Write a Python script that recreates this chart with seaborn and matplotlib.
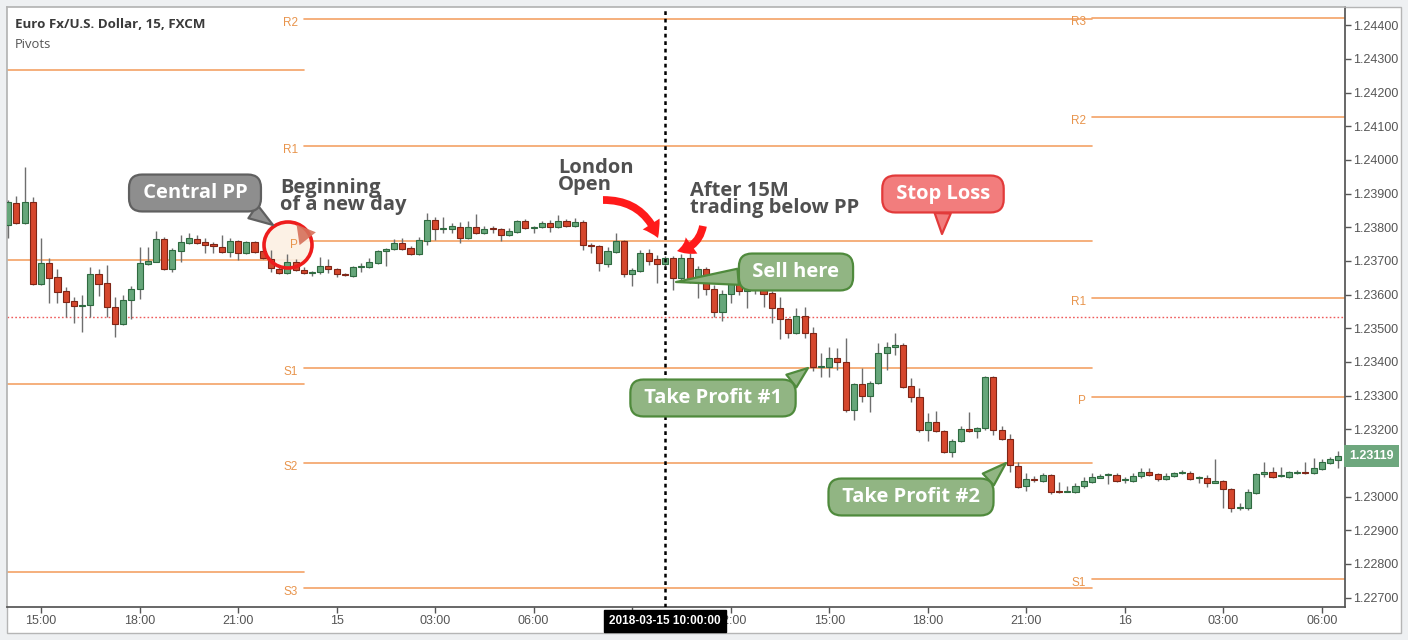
import numpy as np
import matplotlib.pyplot as plt
import matplotlib.patches as mpatches
import pandas as pd
import seaborn as sns

W, H = 1408, 640

# EUR/USD 15 minute candles, first bar 2018-03-14 14:00
start_time = "2018-03-14 14:00"

opens = [
    1.23807, 1.23872, 1.23813, 1.23875, 1.23632, 1.23694, 1.23653, 1.23611, 1.23581, 1.23566,
    1.23569, 1.23661, 1.23635, 1.23563, 1.23513, 1.23584, 1.23617, 1.23691, 1.23697, 1.23765,
    1.23676, 1.23730, 1.23754, 1.23765, 1.23756, 1.23751, 1.23742, 1.23727, 1.23759, 1.23724,
    1.23756, 1.23730, 1.23706, 1.23676, 1.23664, 1.23697, 1.23673, 1.23664, 1.23667, 1.23685,
    1.23676, 1.23661, 1.23655, 1.23682, 1.23682, 1.23694, 1.23730, 1.23736, 1.23754, 1.23739,
    1.23721, 1.23759, 1.23822, 1.23795, 1.23795, 1.23801, 1.23768, 1.23801, 1.23783, 1.23797,
    1.23795, 1.23777, 1.23786, 1.23819, 1.23798, 1.23801, 1.23813, 1.23801, 1.23819, 1.23804,
    1.23816, 1.23748, 1.23745, 1.23691, 1.23727, 1.23759, 1.23661, 1.23670, 1.23724, 1.23706,
    1.23691, 1.23709, 1.23650, 1.23709, 1.23653, 1.23676, 1.23617, 1.23549, 1.23602, 1.23638,
    1.23611, 1.23638, 1.23626, 1.23605, 1.23560, 1.23528, 1.23486, 1.23537, 1.23486, 1.23385,
    1.23385, 1.23412, 1.23400, 1.23257, 1.23335, 1.23299, 1.23338, 1.23427, 1.23445, 1.23451,
    1.23329, 1.23296, 1.23198, 1.23222, 1.23195, 1.23133, 1.23165, 1.23201, 1.23195, 1.23204,
    1.23356, 1.23198, 1.23171, 1.23091, 1.23032, 1.23053, 1.23047, 1.23064, 1.23018, 1.23015,
    1.23014, 1.23032, 1.23044, 1.23056, 1.23063, 1.23064, 1.23048, 1.23047, 1.23061, 1.23073,
    1.23067, 1.23053, 1.23061, 1.23069, 1.23070, 1.23055, 1.23056, 1.23041, 1.23047, 1.23023,
    1.22966, 1.22966, 1.23011, 1.23067, 1.23073, 1.23060, 1.23059, 1.23070, 1.23073, 1.23070,
    1.23082, 1.23100, 1.23109,
]
highs = [
    1.23881, 1.23893, 1.23979, 1.23890, 1.23768, 1.23709, 1.23676, 1.23623, 1.23593, 1.23599,
    1.23682, 1.23676, 1.23688, 1.23593, 1.23599, 1.23626, 1.23742, 1.23742, 1.23789, 1.23772,
    1.23739, 1.23777, 1.23783, 1.23777, 1.23768, 1.23756, 1.23777, 1.23768, 1.23762, 1.23759,
    1.23759, 1.23739, 1.23733, 1.23685, 1.23721, 1.23706, 1.23682, 1.23670, 1.23712, 1.23706,
    1.23679, 1.23664, 1.23685, 1.23694, 1.23709, 1.23733, 1.23739, 1.23765, 1.23768, 1.23745,
    1.23772, 1.23843, 1.23831, 1.23831, 1.23813, 1.23816, 1.23819, 1.23840, 1.23804, 1.23804,
    1.23798, 1.23798, 1.23822, 1.23825, 1.23804, 1.23819, 1.23822, 1.23837, 1.23825, 1.23828,
    1.23822, 1.23754, 1.23748, 1.23742, 1.23783, 1.23762, 1.23679, 1.23733, 1.23736, 1.23718,
    1.23715, 1.23715, 1.23721, 1.23724, 1.23685, 1.23682, 1.23629, 1.23614, 1.23673, 1.23664,
    1.23644, 1.23650, 1.23641, 1.23611, 1.23593, 1.23531, 1.23560, 1.23563, 1.23504, 1.23427,
    1.23445, 1.23442, 1.23471, 1.23338, 1.23382, 1.23344, 1.23456, 1.23459, 1.23486, 1.23456,
    1.23353, 1.23323, 1.23249, 1.23255, 1.23198, 1.23171, 1.23210, 1.23252, 1.23207, 1.23358,
    1.23358, 1.23210, 1.23186, 1.23103, 1.23070, 1.23061, 1.23070, 1.23067, 1.23044, 1.23032,
    1.23041, 1.23059, 1.23070, 1.23067, 1.23070, 1.23070, 1.23059, 1.23070, 1.23085, 1.23085,
    1.23070, 1.23070, 1.23073, 1.23079, 1.23076, 1.23061, 1.23064, 1.23112, 1.23050, 1.23026,
    1.22981, 1.23023, 1.23070, 1.23103, 1.23088, 1.23088, 1.23076, 1.23079, 1.23103, 1.23115,
    1.23112, 1.23118, 1.23136,
]
lows = [
    1.23768, 1.23810, 1.23810, 1.23629, 1.23629, 1.23575, 1.23575, 1.23534, 1.23516, 1.23489,
    1.23534, 1.23596, 1.23534, 1.23474, 1.23510, 1.23528, 1.23587, 1.23688, 1.23697, 1.23673,
    1.23667, 1.23697, 1.23751, 1.23751, 1.23724, 1.23724, 1.23724, 1.23712, 1.23703, 1.23721,
    1.23724, 1.23706, 1.23667, 1.23661, 1.23661, 1.23670, 1.23661, 1.23655, 1.23661, 1.23664,
    1.23653, 1.23655, 1.23653, 1.23667, 1.23679, 1.23691, 1.23685, 1.23733, 1.23733, 1.23718,
    1.23718, 1.23748, 1.23762, 1.23783, 1.23783, 1.23754, 1.23765, 1.23780, 1.23780, 1.23783,
    1.23759, 1.23774, 1.23783, 1.23795, 1.23783, 1.23798, 1.23786, 1.23798, 1.23801, 1.23801,
    1.23733, 1.23724, 1.23670, 1.23682, 1.23724, 1.23653, 1.23626, 1.23667, 1.23688, 1.23635,
    1.23685, 1.23614, 1.23644, 1.23635, 1.23590, 1.23599, 1.23534, 1.23522, 1.23575, 1.23599,
    1.23560, 1.23602, 1.23563, 1.23516, 1.23468, 1.23471, 1.23483, 1.23471, 1.23373, 1.23356,
    1.23356, 1.23376, 1.23252, 1.23228, 1.23281, 1.23252, 1.23335, 1.23376, 1.23421, 1.23323,
    1.23281, 1.23192, 1.23165, 1.23192, 1.23130, 1.23118, 1.23162, 1.23192, 1.23174, 1.23198,
    1.23183, 1.23168, 1.23073, 1.23026, 1.23017, 1.23044, 1.23044, 1.23008, 1.23011, 1.23014,
    1.23011, 1.23026, 1.23041, 1.23056, 1.23038, 1.23044, 1.23041, 1.23044, 1.23056, 1.23061,
    1.23047, 1.23050, 1.23059, 1.23067, 1.23050, 1.23041, 1.23029, 1.23041, 1.22966, 1.22955,
    1.22960, 1.22960, 1.23008, 1.23059, 1.23056, 1.23059, 1.23056, 1.23067, 1.23067, 1.23067,
    1.23079, 1.23097, 1.23085,
]
closes = [
    1.23875, 1.23813, 1.23875, 1.23632, 1.23694, 1.23650, 1.23608, 1.23578, 1.23566, 1.23570,
    1.23661, 1.23632, 1.23563, 1.23513, 1.23584, 1.23617, 1.23694, 1.23700, 1.23765, 1.23676,
    1.23733, 1.23756, 1.23768, 1.23754, 1.23748, 1.23745, 1.23727, 1.23759, 1.23724, 1.23756,
    1.23727, 1.23709, 1.23679, 1.23664, 1.23697, 1.23673, 1.23664, 1.23667, 1.23685, 1.23676,
    1.23661, 1.23657, 1.23682, 1.23685, 1.23697, 1.23730, 1.23736, 1.23754, 1.23736, 1.23721,
    1.23762, 1.23822, 1.23795, 1.23798, 1.23804, 1.23768, 1.23801, 1.23783, 1.23795, 1.23794,
    1.23777, 1.23789, 1.23819, 1.23798, 1.23801, 1.23813, 1.23801, 1.23819, 1.23804, 1.23816,
    1.23748, 1.23745, 1.23694, 1.23730, 1.23759, 1.23661, 1.23673, 1.23724, 1.23700, 1.23691,
    1.23709, 1.23650, 1.23709, 1.23650, 1.23676, 1.23617, 1.23549, 1.23602, 1.23638, 1.23611,
    1.23638, 1.23626, 1.23602, 1.23560, 1.23528, 1.23486, 1.23537, 1.23486, 1.23385, 1.23388,
    1.23412, 1.23400, 1.23257, 1.23335, 1.23299, 1.23338, 1.23427, 1.23445, 1.23451, 1.23326,
    1.23296, 1.23198, 1.23222, 1.23195, 1.23133, 1.23165, 1.23201, 1.23195, 1.23204, 1.23356,
    1.23198, 1.23171, 1.23094, 1.23029, 1.23053, 1.23048, 1.23064, 1.23014, 1.23015, 1.23018,
    1.23032, 1.23047, 1.23059, 1.23061, 1.23064, 1.23047, 1.23050, 1.23061, 1.23073, 1.23064,
    1.23053, 1.23061, 1.23070, 1.23070, 1.23053, 1.23056, 1.23041, 1.23047, 1.23023, 1.22966,
    1.22969, 1.23014, 1.23067, 1.23073, 1.23059, 1.23061, 1.23073, 1.23072, 1.23070, 1.23085,
    1.23103, 1.23112, 1.23119,
]

# daily pivot sessions start at 23:00
session_starts = ["2018-03-14 23:00", "2018-03-15 23:00"]
day14_levels = [1.24267, 1.23703, 1.23335, 1.22776]
day15_names = ["R2", "R1", "P", "S1", "S2", "S3"]
day15_levels = [1.24419, 1.24042, 1.23759, 1.23382, 1.23100, 1.22729]
day16_names = ["R3", "R2", "R1", "P", "S1"]
day16_levels = [1.24422, 1.24128, 1.23590, 1.23296, 1.22756]
prev_level = 1.23534
london_open = "2018-03-15 10:00"

GREEN, GREEN_E = "#66a67a", "#2f6a40"
RED, RED_E = "#d5472d", "#7e2516"
ORANGE, ORANGE_T = "#f3a266", "#e8944c"
TXT_FONT = ["Open Sans", "DejaVu Sans"]


def P(x, y):
    # reference pixel -> figure pixels
    return (x, H - y)


if __name__ == '__main__':
    sns.set_theme(style="white")
    plt.rcParams['font.family'] = ['Liberation Sans', 'DejaVu Sans']

    times = pd.date_range(start_time, periods=len(opens), freq="15min")
    df = pd.DataFrame({"time": times, "open": opens, "high": highs, "low": lows, "close": closes})
    df["i"] = np.arange(len(df))
    df["up"] = df["close"] >= df["open"]

    fig = plt.figure(figsize=(W / 100, H / 100), dpi=100, facecolor="#eef0f2")
    fig.add_artist(mpatches.Rectangle((7 / W, 1 - 633 / H), 1394 / W, 626 / H, transform=fig.transFigure,
                                      fc="white", ec="#b5b5b5", lw=1, zorder=-1))
    ax = fig.add_axes([7 / W, 33 / H, 1338 / W, 600 / H])
    ax.set_facecolor("white")

    x_lo, x_hi = -0.15, len(df) - 0.17
    s1 = times.get_loc(pd.Timestamp(session_starts[0]))
    s2 = times.get_loc(pd.Timestamp(session_starts[1]))

    # pivot segments
    segs = []
    for k, lvl in enumerate(day14_levels):
        segs += [dict(key=f"a{k}", x=x_lo - 1, price=lvl), dict(key=f"a{k}", x=s1, price=lvl)]
    for name, lvl in zip(day15_names, day15_levels):
        segs += [dict(key=f"b{name}", x=s1, price=lvl), dict(key=f"b{name}", x=s2, price=lvl)]
    for name, lvl in zip(day16_names, day16_levels):
        segs += [dict(key=f"c{name}", x=s2, price=lvl), dict(key=f"c{name}", x=x_hi + 1, price=lvl)]
    seg = pd.DataFrame(segs)
    sns.lineplot(data=seg, x="x", y="price", units="key", estimator=None, color=ORANGE, lw=1.2, ax=ax, zorder=1)

    for names, levels, xs in [(day15_names, day15_levels, s1), (day16_names, day16_levels, s2)]:
        for name, lvl in zip(names, levels):
            ax.annotate(name, (xs, lvl), xytext=(-4, -3), textcoords="offset points", ha="right", va="center",
                        color=ORANGE_T, fontsize=8.5, zorder=6)

    ax.axhline(prev_level, color="#ef5a5a", lw=1, ls=(0, (1.2, 1.6)), zorder=2)

    # red circle round the new day's pivot
    fig_in = fig.dpi_scale_trans
    ax.add_patch(mpatches.Ellipse((2.88, (H - 245) / 100), 0.48, 0.46, transform=fig_in,
                                  fc=(0.99, 0.94, 0.89, 0.92), ec="none", zorder=2.5, clip_on=False))

    # candles
    body_lo = df[["open", "close"]].min(axis=1)
    body_h = (df["close"] - df["open"]).abs().clip(lower=0.00003)
    ax.vlines(df["i"], df["low"], df["high"], color="#6e6e6e", lw=1, zorder=3)
    ax.bar(df["i"], body_h, bottom=body_lo, width=0.74,
           color=np.where(df["up"], GREEN, RED), edgecolor=np.where(df["up"], GREEN_E, RED_E),
           linewidth=0.8, zorder=4)

    ax.add_patch(mpatches.Ellipse((2.88, (H - 245) / 100), 0.48, 0.46, transform=fig_in,
                                  fc="none", ec="#ee1c1c", lw=2.6, zorder=7, clip_on=False))
    ax.add_patch(mpatches.RegularPolygon((3.04, (H - 234) / 100), 3, radius=0.12, orientation=np.pi - 0.38,
                                         transform=fig_in, fc="#d6705a", ec="none", alpha=0.9, zorder=7,
                                         clip_on=False))

    li = times.get_loc(pd.Timestamp(london_open))
    ax.axvline(li, color="black", lw=1.8, ls=(0, (1.5, 1.5)), zorder=5)

    # axes
    ax.set_xlim(x_lo, x_hi)
    ax.set_ylim(1.22672, 1.24454)
    ax.set_xlabel("")
    ax.set_ylabel("")
    tick_pos = [i for i, t in enumerate(times) if t.minute == 0 and t.hour % 3 == 0]
    tick_lab = [times[i].strftime("%d") if times[i].hour == 0 else times[i].strftime("%H:%M") for i in tick_pos]
    # the date marker hides the label just before it
    tick_lab = ["" if 0 < li - i < 6 else lab for i, lab in zip(tick_pos, tick_lab)]
    ax.set_xticks(tick_pos)
    ax.set_xticklabels(tick_lab)
    yt = np.round(np.arange(1.227, 1.2441, 0.001), 3)
    ax.set_yticks(yt)
    ax.set_yticklabels(["" if abs(v - closes[-1]) < 0.0003 else f"{v:.5f}" for v in yt])
    ax.yaxis.tick_right()
    ax.tick_params(axis="both", direction="out", length=4, width=1, colors="#555555", labelsize=9, pad=2)
    ax.tick_params(axis="x", bottom=True)
    ax.tick_params(axis="y", right=True)
    for side in ["right", "bottom"]:
        ax.spines[side].set_color("#555555")
    for side in ["left", "top"]:
        ax.spines[side].set_color("#b5b5b5")

    ax.annotate(times[li].strftime("%Y-%m-%d %H:%M:%S"), xy=(li, 0), xycoords=("data", "axes fraction"),
                xytext=(0, -10), textcoords="offset points", ha="center", va="center", color="white",
                fontsize=8.5, fontweight="bold", bbox=dict(boxstyle="square,pad=0.4", fc="black", ec="black"),
                zorder=10, annotation_clip=False)
    ax.annotate(f"{closes[-1]:.5f}", xy=(1, closes[-1]), xycoords=("axes fraction", "data"),
                xytext=(3, 0), textcoords="offset points", ha="left", va="center", color="white",
                fontsize=9, fontweight="bold", bbox=dict(boxstyle="square,pad=0.4", fc="#6ea77e", ec="none"),
                zorder=10, annotation_clip=False)

    fig.text(15 / W, 1 - 25 / H, "Euro Fx/U.S. Dollar, 15, FXCM", fontsize=9.6, fontweight="bold",
             color="#3a3a3a", va="center", family=TXT_FONT)
    fig.text(15 / W, 1 - 44 / H, "Pivots", fontsize=9.4, color="#555555", va="center", family=TXT_FONT)

    # notes
    for txt, pos in [("Beginning\nof a new day", (280, 178)), ("London\nOpen", (558, 158)),
                     ("After 15M\ntrading below PP", (690, 181))]:
        ax.annotate(txt, xy=P(*pos), xycoords="figure pixels", ha="left", va="top", fontsize=14.5,
                    fontweight="bold", color="#505050", linespacing=0.82, family=TXT_FONT, zorder=8,
                    annotation_clip=False)

    def callout(text, center, tip, fc, ec, relpos):
        ax.annotate(f" {text} ", xy=P(*tip), xycoords="figure pixels", xytext=P(*center),
                    textcoords="figure pixels", ha="center", va="center", fontsize=14.5, fontweight="bold",
                    color="white", family=TXT_FONT,
                    bbox=dict(boxstyle="round,pad=0.42,rounding_size=0.65", fc=fc, ec=ec, lw=1.6),
                    arrowprops=dict(arrowstyle="wedge,tail_width=0.8,shrink_factor=0.5", fc=fc, ec=ec, lw=1.6,
                                    relpos=relpos, shrinkA=0, shrinkB=0),
                    zorder=9, annotation_clip=False)

    callout("Central PP", (195, 193), (273, 225), "#8e8e8e", "#606060", (0.88, 0.05))
    callout("Stop Loss", (943, 194), (942, 234), "#f27d7d", "#e23a3a", (0.5, 0.0))
    callout("Sell here", (796, 272), (676, 282), "#91b583", "#4f8a3c", (0.0, 0.3))
    callout("Take Profit #1", (713, 398), (808, 368), "#91b583", "#4f8a3c", (0.96, 0.95))
    callout("Take Profit #2", (911, 497), (1006, 463), "#91b583", "#4f8a3c", (0.96, 0.95))

    for a, b, rad in [((603, 200), (658, 238), -0.35), ((703, 226), (677, 251), -0.35)]:
        ax.annotate("", xy=P(*b), xycoords="figure pixels", xytext=P(*a), textcoords="figure pixels",
                    arrowprops=dict(arrowstyle="simple,head_length=0.7,head_width=0.9,tail_width=0.35",
                                    fc="#ff1a1a", ec="none", connectionstyle=f"arc3,rad={rad}",
                                    mutation_scale=16, shrinkA=0, shrinkB=0),
                    zorder=8, annotation_clip=False)

    plt.savefig("out.png", dpi=100, facecolor=fig.get_facecolor())
